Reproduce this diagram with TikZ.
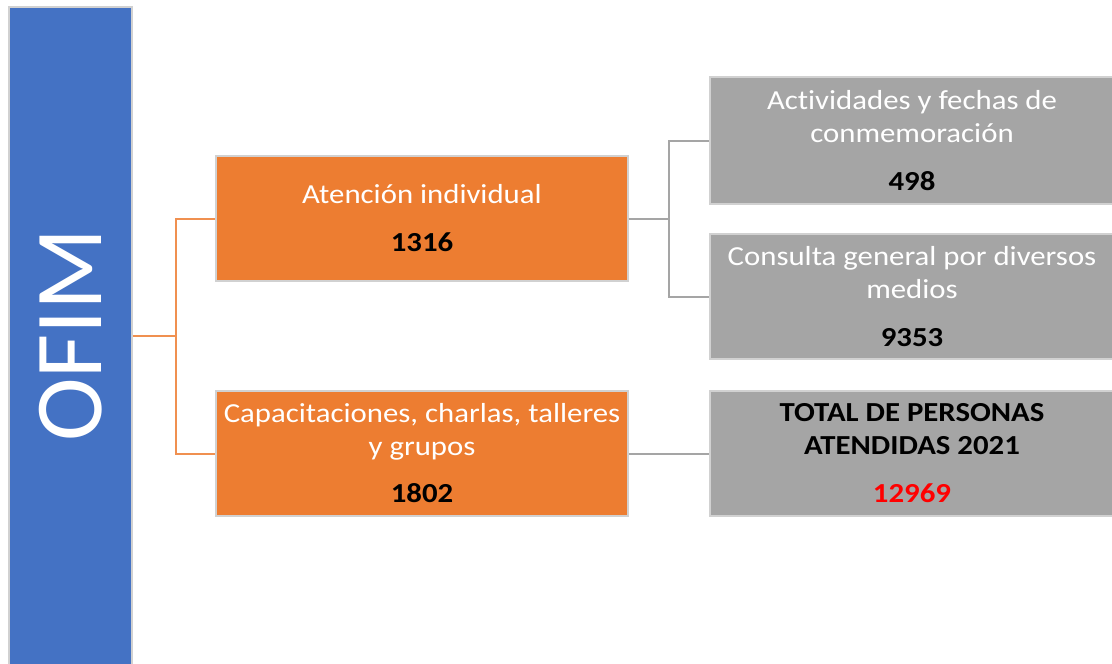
\documentclass[tikz,border=0pt]{standalone}
\usepackage{fontspec}
\setmainfont{Carlito}
\newfontfamily\boxfont[FakeStretch=1.12, Ligatures=NoCommon]{Carlito}
\usetikzlibrary{positioning}
\definecolor{ofimblue}{HTML}{4472C4}
\definecolor{ofimorange}{HTML}{ED7D31}
\definecolor{ofimgray}{HTML}{A5A5A5}
\definecolor{ofimred}{HTML}{FF0000}
\tikzset{
  box/.style={draw=black!18, line width=1.5pt, minimum height=125pt, align=center,
    inner sep=0pt, font=\boxfont\fontsize{27.5}{33}\selectfont},
  orangebox/.style={box, fill=ofimorange, text=white, minimum width=412pt},
  graybox/.style={box, fill=ofimgray, text=white, minimum width=404pt},
  orangeline/.style={draw=ofimorange!85, line width=2pt},
  grayline/.style={draw=ofimgray, line width=2pt},
}
\begin{document}
\begin{tikzpicture}[x=1pt, y=-1pt]
    \clip (0,0) rectangle (1112,664);
    % left bar
    \node[draw=black!18, line width=1.5pt, fill=ofimblue, minimum width=123pt, minimum height=658pt] (ofim) at (70.5,336) {};
    \node[rotate=90, text=white, font=\fontsize{96}{100}\selectfont] (ofimtext) at (70.5,335) {OFIM};
    % second level
    \node[orangebox] (atencion) at (422,218.5) {Atención individual\\[15pt]{\color{black}\bfseries 1316}};
    \node[orangebox] (capacit) at (422,453.5) {Capacitaciones,\ charlas,\ talleres\\y grupos\\[14pt]{\color{black}\bfseries 1802}};
    % third level
    \node[graybox, minimum height=127pt] (activ) at (912,140.5) {Actividades y fechas de\\conmemoración\\[15pt]{\color{black}\bfseries 498}};
    \node[graybox] (consulta) at (912,296.5) {Consulta general por diversos\\medios\\[15pt]{\color{black}\bfseries 9353}};
    \node[graybox, text=black] (total) at (912,453.5) {\bfseries TOTAL DE PERSONAS\\\bfseries ATENDIDAS 2021\\[15pt]{\color{ofimred}\bfseries 12969}};
    % connectors
    \draw[orangeline] (ofim.east) -- ++(43,0) |- (atencion.west);
    \draw[orangeline] (ofim.east) -- ++(43,0) |- (capacit.west);
    \draw[grayline] (atencion.east) -- ++(40,0) |- (activ.west);
    \draw[grayline] (atencion.east) -- ++(40,0) |- (consulta.west);
    \draw[grayline] (capacit.east) -- (total.west);
\end{tikzpicture}
\end{document}
